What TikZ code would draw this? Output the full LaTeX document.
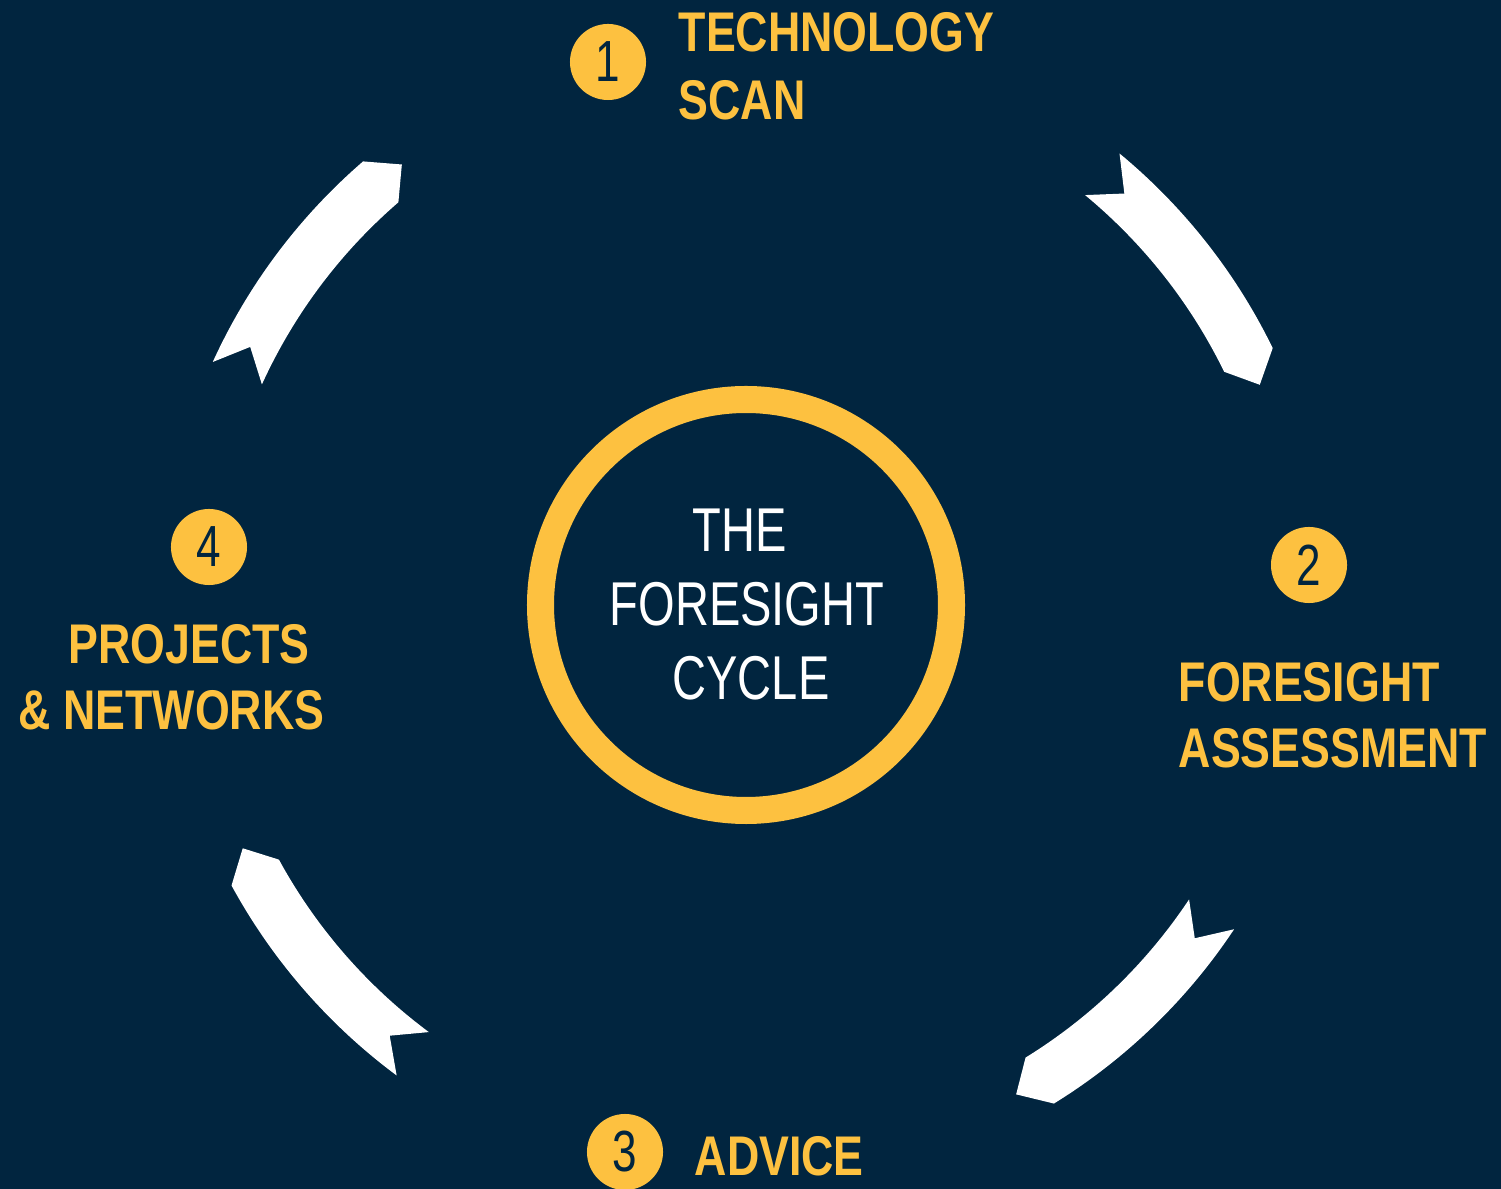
\documentclass[tikz,border=0pt]{standalone}
\usepackage{fontspec}
\setmainfont{Liberation Sans}
\newfontfamily\stepfont{Liberation Sans}[FakeStretch=0.8]
\newfontfamily\hubfont{Liberation Sans}[FakeStretch=0.76]
\definecolor{navy}{RGB}{1,37,63}
\definecolor{gold}{RGB}{253,193,64}
\tikzset{
  steplabel/.style={anchor=base west, inner sep=0pt, text=gold, font=\stepfont\bfseries\fontsize{15.9}{19}\selectfont},
  hublabel/.style={anchor=base, inner sep=0pt, text=white, font=\hubfont\fontsize{17.6}{21}\selectfont},
  stepnum/.style={circle, fill=gold, minimum size=0.76cm, inner sep=0pt, text=navy, font=\hubfont\fontsize{16.5}{18}\selectfont},
  cyclearrow/.style={fill=white}
}

\begin{document}
\begin{tikzpicture}[x=0.01cm,y=0.01cm]
                \fill[navy] (-746,-584) rectangle (755,605);
                \useasboundingbox (-746,-584) rectangle (755,605);

                % ring in the middle
                \draw[gold,line width=0.27cm] (0,0) circle (205.5);
                \node[hublabel] (hubA) at (-6,53) {THE};
                \node[hublabel] (hubB) at (1,-21) {FORESIGHT};
                \node[hublabel] (hubC) at (5,-95) {CYCLE};

                % arrows, notch angle / head angle
                \foreach \a/\b in {50.4/26.0, -33.6/-58.3, 233.4/208.6, 155.5/130.8}
                  \fill[cyclearrow] (\a:586) arc[start angle=\a, end angle=\b, radius=586]
                    -- (\b-2.8:559) -- (\b:532) arc[start angle=\b, end angle=\a, radius=532]
                    -- (\a-3:559) -- cycle;

                % steps
                \node[stepnum] (num1) at (-138,543) {1};
                \node[steplabel] (scanA) at (-68,553) {TECHNOLOGY};
                \node[steplabel] (scanB) at (-68,485) {SCAN};

                \node[stepnum] (num2) at (563,40) {2};
                \node[steplabel] (assessA) at (432,-97) {FORESIGHT};
                \node[steplabel] (assessB) at (432,-163) {ASSESSMENT};

                \node[stepnum] (num3) at (-121,-547) {3};
                \node[steplabel] (advice) at (-52,-570) {ADVICE};

                \node[stepnum] (num4) at (-537,58) {4};
                \node[steplabel] (projA) at (-678,-59) {PROJECTS};
                \node[steplabel] (projB) at (-728,-125) {\& NETWORKS};
            \end{tikzpicture}
\end{document}
